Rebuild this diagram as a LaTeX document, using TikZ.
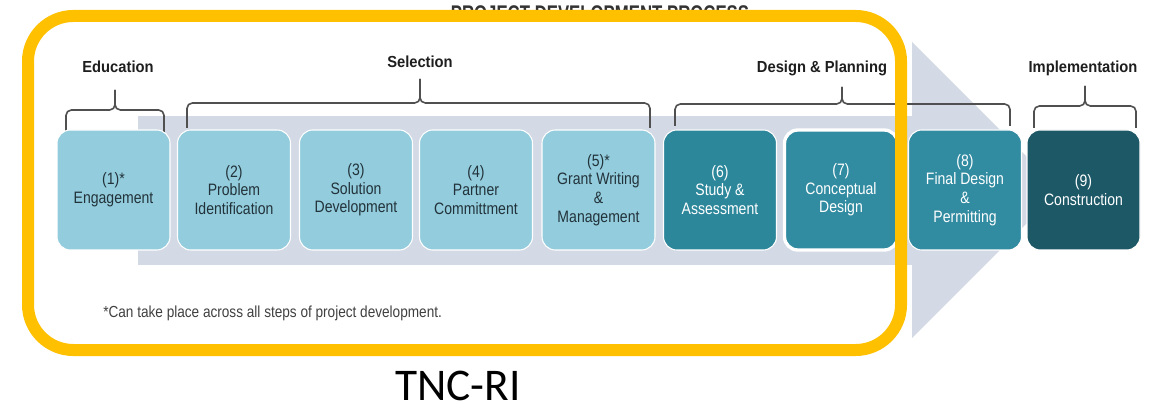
\documentclass[tikz,border=0pt]{standalone}
\usepackage{fontspec}
\setmainfont{Liberation Sans}
\newfontfamily\boxfont[FakeStretch=0.85]{Liberation Sans}
\newfontfamily\headfont[FakeStretch=0.92]{Liberation Sans}
\newfontfamily\titlefont[FakeStretch=0.74]{Liberation Sans}
\newfontfamily\tncfont{Carlito}
\definecolor{bandcol}{HTML}{D3D9E5}
\definecolor{lightbox}{HTML}{93CDDD}
\definecolor{boxtext}{HTML}{22323A}
\definecolor{tealbox}{HTML}{2D879B}
\definecolor{tealboxb}{HTML}{318BA1}
\definecolor{darkbox}{HTML}{1D5867}
\definecolor{bracecol}{HTML}{505050}
\definecolor{framecol}{HTML}{FFC000}
\definecolor{headcol}{HTML}{1E1E1E}
\tikzset{
  stepbox/.style={rounded corners=10pt, minimum width=84.75pt, minimum height=90pt,
    inner sep=0pt, align=center, draw=white, line width=0.8pt,
    font=\boxfont\fontsize{12.4}{14}\selectfont},
  lightstep/.style={stepbox, fill=lightbox, text=boxtext},
  tealstep/.style={stepbox, fill=tealbox, text=white},
  header/.style={font=\headfont\bfseries\fontsize{12}{14}\selectfont, text=headcol, inner sep=0pt},
  bracepath/.style={draw=bracecol, line width=1.2pt, rounded corners=4pt},
}
\begin{document}
\begin{tikzpicture}[x=0.75pt,y=-0.75pt]
\useasboundingbox (0,0) rectangle (1159,409);
\clip (0,0) rectangle (1159,409);
% background arrow
\fill[bandcol] (138,116) rectangle (913,265);
\fill[bandcol] (912,42) -- (1060,190) -- (912,338) -- cycle;
% braces
\draw[bracepath] (66,132) -- (66,110) -- (115,110) -- (115,90);
\draw[bracepath] (164,132) -- (164,110) -- (115,110) -- (115,90);
\draw[bracepath] (187,128) -- (187,103) -- (420,103) -- (420,79);
\draw[bracepath] (650,128) -- (650,103) -- (420,103) -- (420,79);
\draw[bracepath] (675,126) -- (675,104) -- (842,104) -- (842,87);
\draw[bracepath] (1010,126) -- (1010,104) -- (842,104) -- (842,87);
\draw[bracepath] (1034,128) -- (1034,106) -- (1085,106) -- (1085,86);
\draw[bracepath] (1136,128) -- (1136,106) -- (1085,106) -- (1085,86);
% headers
\node[header] (hedu) at (118,67) {Education};
\node[header] (hsel) at (420,62) {Selection};
\node[header] (hdes) at (822,68) {Design \& Planning};
\node[header] (himp) at (1083,68) {Implementation};
% steps
\node[lightstep] (s1) at (113.5,190) {(1)*\\Engagement};
\node[lightstep] (s2) at (234,190) {(2)\\Problem\\Identification};
\node[lightstep] (s3) at (356,190) {(3)\\Solution\\Development};
\node[lightstep] (s4) at (476,190) {(4)\\Partner\\Committment};
\node[lightstep] (s5) at (598.5,190) {(5)*\\Grant Writing\\\&\\Management};
\node[tealstep] (s6) at (720,190) {(6)\\Study \&\\Assessment};
\node[tealstep, fill=tealboxb, line width=2.5pt] (s7) at (841,190) {(7)\\Conceptual\\Design};
\node[tealstep, fill=tealboxb] (s8) at (965,190) {(8)\\Final Design\\\&\\Permitting};
\node[tealstep, fill=darkbox] (s9) at (1083.5,190) {(9)\\Construction};
% footnote
\node[anchor=west, inner sep=0pt, text=black!75, font=\boxfont\fontsize{12}{13}\selectfont] (foot) at (103,313) {*Can take place across all steps of project development.};
% title (cut off at the top, under the frame)
\node[inner sep=0pt, text=black!80, font=\titlefont\bfseries\fontsize{17}{19}\selectfont] (title) at (600,14) {PROJECT DEVELOPMENT PROCESS};
% yellow frame
\draw[framecol, line width=9pt, rounded corners=34pt] (28,16) rectangle (901,350);
% label
\node[inner sep=0pt, font=\tncfont\fontsize{34}{38}\selectfont] (tnc) at (458,386) {TNC-RI};
\end{tikzpicture}
\end{document}
